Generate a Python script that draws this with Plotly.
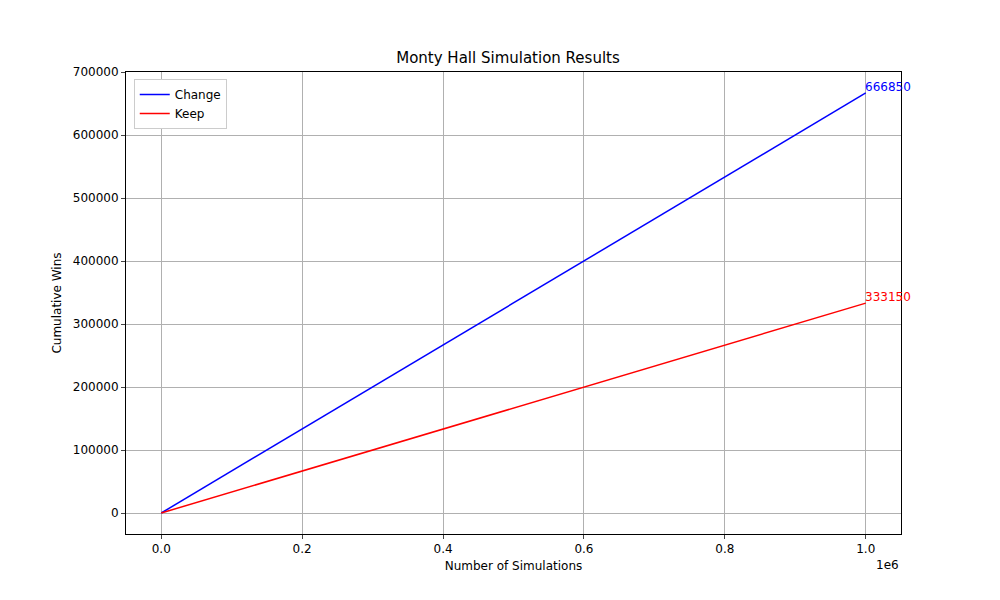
import plotly.graph_objects as go

# simulation data (cumulative wins)
sims = [0, 1000000]
change_wins = [0, 666850]
keep_wins = [0, 333150]

x_ticks = [0, 200000, 400000, 600000, 800000, 1000000]
x_labels = ["0.0", "0.2", "0.4", "0.6", "0.8", "1.0"]
y_ticks = [0, 100000, 200000, 300000, 400000, 500000, 600000, 700000]

fig = go.Figure()
fig.add_trace(go.Scatter(x=sims, y=change_wins, mode="lines", name="Change",
                         line=dict(color="blue", width=1.5)))
fig.add_trace(go.Scatter(x=sims, y=keep_wins, mode="lines", name="Keep",
                         line=dict(color="red", width=1.5)))

# end labels
for ys, col in [(change_wins, "blue"), (keep_wins, "red")]:
    fig.add_annotation(x=sims[-1], y=ys[-1], text=str(ys[-1]), showarrow=False,
                       xanchor="left", yanchor="middle", yshift=6, xshift=-3,
                       font=dict(color=col, size=12))

fig.add_annotation(x=1, y=0, xref="paper", yref="paper", text="1e6",
                   showarrow=False, xanchor="right", yanchor="top", yshift=-22,
                   font=dict(size=12))

axis_style = dict(showgrid=True, gridcolor="#b0b0b0", gridwidth=1,
                  showline=True, linecolor="black", mirror=True,
                  ticks="outside", ticklen=4, zeroline=False,
                  tickfont=dict(size=12))

fig.update_layout(
    width=1000, height=600,
    title=dict(text="Monty Hall Simulation Results", x=0.5, y=0.917,
               xanchor="center", yanchor="middle", font=dict(size=15)),
    font=dict(family="DejaVu Sans", color="black"),
    plot_bgcolor="white", paper_bgcolor="white",
    margin=dict(l=118, r=107, t=64, b=74),
    xaxis=dict(range=[-50000, 1050000], tickvals=x_ticks, ticktext=x_labels,
               title=dict(text="Number of Simulations", font=dict(size=12), standoff=6),
               **axis_style),
    yaxis=dict(range=[-33333, 700000], tickvals=y_ticks, tickformat="d",
               title=dict(text="Cumulative Wins", font=dict(size=12), standoff=8),
               **axis_style),
    legend=dict(x=0.01, y=0.985, xanchor="left", yanchor="top",
                bordercolor="#cccccc", borderwidth=1, bgcolor="white",
                font=dict(size=12)),
)

fig.write_html("out.html")
